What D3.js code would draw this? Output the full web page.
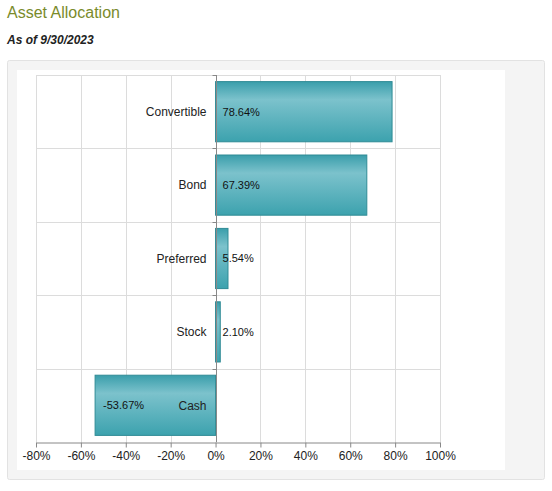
<!DOCTYPE html>
<html>
<head>
<meta charset="utf-8">
<script src="https://cdn.jsdelivr.net/npm/d3@7"></script>
<style>
  body { margin: 0; background: #fff; font-family: Arial, "Liberation Sans", sans-serif; }
</style>
</head>
<body>
<script>
const CATEGORIES = ['Convertible', 'Bond', 'Preferred', 'Stock', 'Cash'];
const VALUES = [78.64, 67.39, 5.54, 2.10, -53.67];
const X_TICKS = [-80, -60, -40, -20, 0, 20, 40, 60, 80, 100];

const [W, H] = [552, 491];
const PLOT = { left: 36, right: 440, top: 75, bottom: 442 };

const svg = d3.select('body').append('svg').attr('width', W).attr('height', H);

// title
svg.append('text')
    .attr('x', 7).attr('y', 18)
    .style('font-size', '16px')
    .style('fill', '#7a8b2b')
    .text('Asset Allocation');

svg.append('text')
    .attr('x', 7).attr('y', 44)
    .style('font-size', '12px')
    .style('font-weight', 'bold')
    .style('font-style', 'italic')
    .style('fill', '#222')
    .text('As of 9/30/2023');

// panels
svg.append('rect')
    .attr('x', 7.5).attr('y', 60.5).attr('width', 537).attr('height', 419)
    .attr('rx', 2)
    .attr('fill', '#f4f4f4').attr('stroke', '#e2e2e2');
svg.append('rect')
    .attr('x', 17).attr('y', 70).attr('width', 488).attr('height', 400)
    .attr('fill', '#fff');

// gradient for bars
const grad = svg.append('defs').append('linearGradient')
    .attr('id', 'barGrad').attr('x1', 0).attr('y1', 0).attr('x2', 0).attr('y2', 1);
grad.append('stop').attr('offset', '0%').attr('stop-color', '#3a9eab');
grad.append('stop').attr('offset', '30%').attr('stop-color', '#7cc2cc');
grad.append('stop').attr('offset', '100%').attr('stop-color', '#3ca2ae');

const xScale = d3.scaleLinear().domain([-80, 100]).range([PLOT.left, PLOT.right]);
const yScale = d3.scaleBand().domain(CATEGORIES).range([PLOT.top, PLOT.bottom]);

// grid
svg.append('g').selectAll('line')
    .data(X_TICKS)
    .enter().append('line')
    .attr('x1', d => Math.round(xScale(d)) + 0.5).attr('x2', d => Math.round(xScale(d)) + 0.5)
    .attr('y1', PLOT.top).attr('y2', PLOT.bottom)
    .attr('stroke', '#dcdcdc');

svg.append('g').selectAll('line')
    .data(CATEGORIES)
    .enter().append('line')
    .attr('x1', PLOT.left).attr('x2', PLOT.right)
    .attr('y1', d => Math.round(yScale(d)) + 0.5).attr('y2', d => Math.round(yScale(d)) + 0.5)
    .attr('stroke', '#dcdcdc');

// bars
const bw = yScale.bandwidth();
svg.append('g').selectAll('rect')
    .data(CATEGORIES)
    .enter().append('rect')
    .attr('x', (d, i) => xScale(Math.min(0, VALUES[i])))
    .attr('y', d => yScale(d) + bw * 0.09)
    .attr('width', (d, i) => Math.abs(xScale(VALUES[i]) - xScale(0)))
    .attr('height', bw * 0.82)
    .attr('fill', 'url(#barGrad)')
    .attr('stroke', '#2f8b95');

// zero axis with ticks
const zx = Math.round(xScale(0)) + 0.5;
svg.append('line')
    .attr('x1', zx).attr('x2', zx).attr('y1', PLOT.top).attr('y2', PLOT.bottom)
    .attr('stroke', '#888');
svg.append('g').selectAll('line')
    .data(CATEGORIES)
    .enter().append('line')
    .attr('x1', zx - 4).attr('x2', zx)
    .attr('y1', d => Math.round(yScale(d)) + 0.5).attr('y2', d => Math.round(yScale(d)) + 0.5)
    .attr('stroke', '#888');

// x axis
const xAxis = d3.axisBottom(xScale)
    .tickValues(X_TICKS)
    .tickSize(5)
    .tickSizeOuter(0)
    .tickFormat(d => d + '%');

const gx = svg.append('g')
    .attr('transform', 'translate(0,' + (PLOT.bottom + 0.5) + ')')
    .call(xAxis);
gx.select('.domain').attr('stroke', '#888');
gx.selectAll('.tick line').attr('stroke', '#888');
gx.selectAll('.tick text')
    .attr('dy', '0.71em').attr('y', 9)
    .style('font-family', 'Arial, "Liberation Sans", sans-serif')
    .style('font-size', '12px').style('fill', '#222');

// category labels
svg.append('g').selectAll('text')
    .data(CATEGORIES)
    .enter().append('text')
    .attr('x', xScale(0) - 9)
    .attr('y', d => yScale(d) + bw / 2)
    .attr('dy', '0.35em')
    .style('text-anchor', 'end')
    .style('font-size', '12px')
    .style('fill', '#222')
    .text(d => d);

// value labels
svg.append('g').selectAll('text')
    .data(CATEGORIES)
    .enter().append('text')
    .attr('x', (d, i) => VALUES[i] >= 0 ? xScale(0) + 7 : xScale(VALUES[i]) + 8)
    .attr('y', d => yScale(d) + bw / 2)
    .attr('dy', '0.35em')
    .style('font-size', '11px')
    .style('fill', '#111')
    .text((d, i) => VALUES[i].toFixed(2) + '%');
</script>
</body>
</html>
